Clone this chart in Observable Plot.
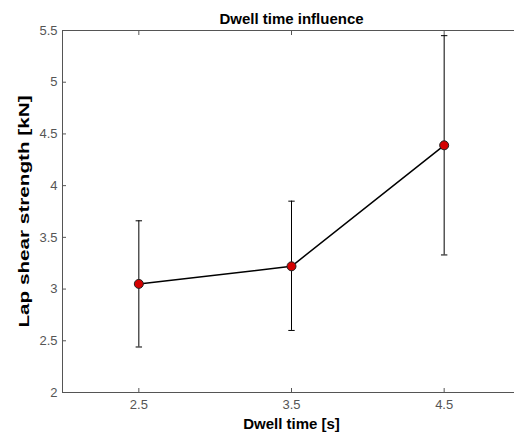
<!DOCTYPE html>
<html>
<head>
<meta charset="utf-8">
<script src="https://cdn.jsdelivr.net/npm/d3@7"></script>
<script src="https://cdn.jsdelivr.net/npm/@observablehq/plot@0.6"></script>
<style>
  html, body { margin: 0; padding: 0; background: #fff; overflow: hidden; }
  #chart { width: 514px; height: 437px; }
</style>
</head>
<body>
<div id="chart"></div>
<script>
const dwell = [2.5, 3.5, 4.5];
const strength = [3.05, 3.22, 4.39];
const lower = [2.44, 2.60, 3.33];
const upper = [3.66, 3.85, 5.45];
const xTicks = [2.5, 3.5, 4.5];
const yTicks = [2, 2.5, 3, 3.5, 4, 4.5, 5, 5.5];
const title = "Dwell time influence";
const xLabel = "Dwell time [s]";
const yLabel = "Lap shear strength [kN]";

const data = dwell.map((d, i) => ({x: d, y: strength[i], lo: lower[i], hi: upper[i]}));

const capSymbol = {
  draw(ctx, size) {
    const r = Math.sqrt(size / Math.PI);
    ctx.moveTo(-r, 0);
    ctx.lineTo(r, 0);
  }
};

const axisColor = "#555";
const fmt = d => String(d);

const plot = Plot.plot({
  width: 514,
  height: 437,
  marginLeft: 62,
  marginRight: -6,
  marginTop: 30,
  marginBottom: 45,
  style: {fontFamily: "'Liberation Sans', Arial, sans-serif", fontSize: "13px", background: "#fff"},
  x: {domain: [2, 5]},
  y: {domain: [2, 5.5]},
  marks: [
    Plot.frame({stroke: axisColor}),
    Plot.axisX({ticks: xTicks, tickFormat: fmt, tickSize: -4, tickPadding: 11, stroke: axisColor, fill: "#555",
      label: xLabel, labelAnchor: "center", labelArrow: "none", labelOffset: 36}),
    Plot.axisX({anchor: "top", ticks: xTicks, tickFormat: () => "", tickSize: -4, stroke: axisColor, label: null}),
    Plot.axisY({ticks: yTicks, tickFormat: fmt, tickSize: -4, tickPadding: 9, stroke: axisColor, fill: "#555",
      label: yLabel, labelAnchor: "center", labelArrow: "none", labelOffset: 44}),
    Plot.ruleX(data, {x: "x", y1: "lo", y2: "hi", stroke: "#000", strokeWidth: 1}),
    Plot.dot(data, {x: "x", y: "lo", symbol: capSymbol, r: 3.2, stroke: "#000", strokeWidth: 1}),
    Plot.dot(data, {x: "x", y: "hi", symbol: capSymbol, r: 3.2, stroke: "#000", strokeWidth: 1}),
    Plot.line(data, {x: "x", y: "y", stroke: "#000", strokeWidth: 1.5}),
    Plot.dot(data, {x: "x", y: "y", r: 4.5, fill: "#d40000", stroke: "#222", strokeWidth: 1}),
    Plot.text([title], {text: d => d, frameAnchor: "top", dy: -17, fontSize: 15, fontWeight: "bold", fill: "#000"})
  ]
});

plot.querySelectorAll("[aria-label='x-axis label'], [aria-label='y-axis label']").forEach(g => {
  g.setAttribute("fill", "#000");
  g.setAttribute("font-weight", "bold");
  g.setAttribute("font-size", "15");
});
// the reference's y label is drawn stretched along its length
plot.querySelectorAll("[aria-label='y-axis label'] text").forEach(t => {
  const tr = t.getAttribute("transform") || "";
  t.setAttribute("transform", tr + " scale(1.38,1)");
});
document.getElementById("chart").appendChild(plot);
</script>
</body>
</html>
